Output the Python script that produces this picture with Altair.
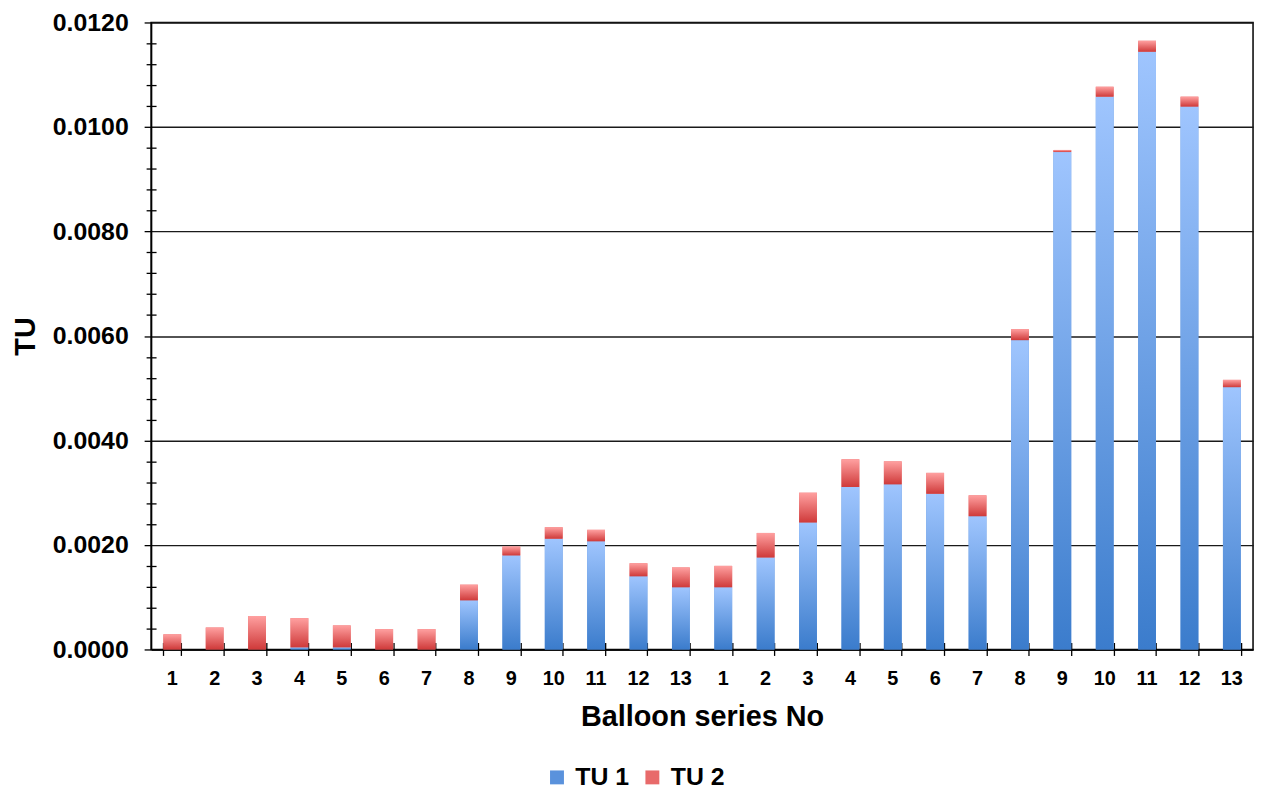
import altair as alt
import pandas as pd

# Balloon series numbers (two campaigns of 13 series)
series_no = [1, 2, 3, 4, 5, 6, 7, 8, 9, 10, 11, 12, 13,
             1, 2, 3, 4, 5, 6, 7, 8, 9, 10, 11, 12, 13]
campaign = ["A"] * 13 + ["B"] * 13

tu1 = [0.0, 0.0, 0.0, 0.00004, 0.00004, 0.0, 0.0, 0.00094, 0.00180, 0.00212, 0.00207, 0.00140, 0.00119,
       0.00119, 0.00176, 0.00243, 0.00311, 0.00316, 0.00298, 0.00255, 0.00592, 0.00952, 0.01058, 0.01144, 0.01039, 0.00502]
tu2 = [0.00029, 0.00042, 0.00064, 0.00056, 0.00042, 0.00039, 0.00039, 0.00030, 0.00017, 0.00022, 0.00022, 0.00025, 0.00038,
       0.00041, 0.00047, 0.00057, 0.00053, 0.00044, 0.00040, 0.00040, 0.00021, 0.00004, 0.00019, 0.00021, 0.00019, 0.00014]

series_names = ["TU 1", "TU 2"]
major_ticks = [0.0, 0.002, 0.004, 0.006, 0.008, 0.010, 0.012]
minor_ticks = [round(0.0004 * k, 4) for k in range(1, 30) if k % 5 != 0]

slots = [f"{c}-{n}" for c, n in zip(campaign, series_no)]
rows = []
for s, a, b in zip(slots, tu1, tu2):
    rows.append({"slot": s, "series": "TU 1", "ord": 0, "value": a})
    rows.append({"slot": s, "series": "TU 2", "ord": 1, "value": b})
df = pd.DataFrame(rows)

FONT = "Liberation Sans"

blue_grad = {"gradient": "linear", "x1": 0, "y1": 1, "x2": 0, "y2": 0,
             "stops": [{"offset": 0, "color": "#3b7ccc"},
                       {"offset": 1, "color": "#9fc5fe"}]}
red_grad = {"gradient": "linear", "x1": 0, "y1": 1, "x2": 0, "y2": 0,
            "stops": [{"offset": 0, "color": "#cf3a3a"},
                      {"offset": 1, "color": "#ffa0a0"}]}

x_scale = alt.Scale(paddingInner=0.58, paddingOuter=0.29)

x_enc = alt.X("slot:N", sort=slots, title="Balloon series No", scale=x_scale,
              axis=alt.Axis(labelExpr="split(datum.value, '-')[1]", labelAngle=0,
                            ticks=False, domainColor="#000", domainWidth=1.5,
                            labelFont=FONT, labelFontSize=20, labelFontWeight="bold",
                            labelColor="#000", labelPadding=19,
                            titleFont=FONT, titleFontSize=29, titleFontWeight="bold",
                            titleColor="#000", titlePadding=15))

y_scale = alt.Scale(domain=[0, 0.012], nice=False)

base = alt.Chart(df)

solid = base.mark_bar().encode(
    x=x_enc,
    y=alt.Y("value:Q", stack="zero", scale=y_scale, title="TU",
            axis=alt.Axis(values=major_ticks, format=".4f", tickSize=7, tickColor="#000",
                          tickWidth=1.3, domainColor="#000", domainWidth=1.5,
                          grid=True, gridColor="#1a1a1a", gridWidth=1.4,
                          labelFont=FONT, labelFontSize=25, labelFontWeight="bold",
                          labelColor="#000", labelPadding=16,
                          titleFont=FONT, titleFontSize=29, titleFontWeight="bold",
                          titleColor="#000", titlePadding=12)),
    color=alt.Color("series:N", scale=alt.Scale(domain=series_names, range=["#5a92dc", "#e86a6a"]),
                    legend=alt.Legend(title=None, orient="none", direction="horizontal",
                                      legendX=396, legendY=747,
                                      symbolType="square", symbolSize=196, symbolStrokeWidth=0,
                                      labelFont=FONT, labelFontSize=25, labelFontWeight="bold",
                                      labelColor="#000", columnPadding=10, labelOffset=6)),
    order=alt.Order("ord:Q"),
)

grad = base.mark_bar().encode(
    x=alt.X("slot:N", sort=slots, scale=x_scale,
            axis=alt.Axis(orient="bottom", offset=-7, labels=False, domain=False,
                          grid=False, title=None, tickBand="extent", tickSize=13,
                          tickColor="#000", tickWidth=1.3)),
    y=alt.Y("value:Q", stack="zero", scale=y_scale,
            axis=alt.Axis(values=minor_ticks, orient="left", offset=-5, labels=False,
                          domain=False, grid=False, title=None, tickSize=10,
                          tickColor="#000", tickWidth=1.3)),
    fill=alt.condition("datum.series === 'TU 1'", alt.value(blue_grad), alt.value(red_grad)),
    detail="series:N",
    order=alt.Order("ord:Q"),
)

chart = alt.layer(solid, grad).resolve_scale(y="independent").resolve_axis(x="independent").properties(
    width=1109, height=631,
    autosize=alt.AutoSizeParams(type="none"),
    padding={"left": 144, "top": 12, "right": 6, "bottom": 160},
    background="white",
).configure_view(stroke="#000", strokeWidth=1.5)

chart.save("out.html", embed_options={"renderer": "svg", "actions": False})
